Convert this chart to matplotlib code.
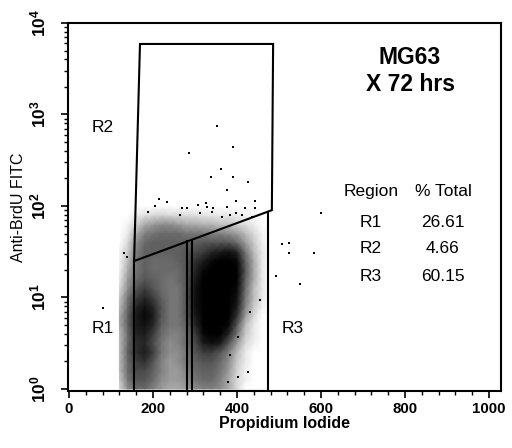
import matplotlib
matplotlib.use("Agg")
import matplotlib.pyplot as plt
import numpy as np
from matplotlib.colors import PowerNorm
from matplotlib.ticker import FixedLocator, FuncFormatter, LogLocator, NullFormatter

plt.rcParams['font.family'] = ['Liberation Sans', 'DejaVu Sans']
plt.rcParams['mathtext.fontset'] = 'custom'
plt.rcParams['mathtext.rm'] = 'Liberation Sans:bold'
plt.rcParams['mathtext.bf'] = 'Liberation Sans:bold'
plt.rcParams['mathtext.it'] = 'Liberation Sans:bold'

# ---------------- data ----------------
x_ticks = [0, 200, 400, 600, 800, 1000]
y_exponents = [0, 1, 2, 3, 4]

# density of events (0 = empty, 1 = solid black), PI channel columns x log10(FITC) rows
density_x = [120, 140, 160, 180, 200, 220, 240, 260, 280, 300,
             320, 340, 360, 380, 400, 420, 440, 460, 480, 500]
density_log = [0.0, 0.1, 0.2, 0.3, 0.4, 0.5, 0.6, 0.7, 0.8, 0.9, 1.0, 1.1,
               1.2, 1.3, 1.4, 1.5, 1.6, 1.7, 1.8, 1.9, 2.0, 2.1, 2.2, 2.3]
density = [
    [0.10, 0.35, 0.50, 0.50, 0.40, 0.30, 0.25, 0.25, 0.30, 0.35, 0.40, 0.40, 0.35, 0.25, 0.10, 0.00, 0, 0, 0, 0],
    [0.15, 0.45, 0.60, 0.60, 0.50, 0.35, 0.30, 0.30, 0.35, 0.45, 0.50, 0.50, 0.40, 0.25, 0.10, 0.03, 0, 0, 0, 0],
    [0.20, 0.50, 0.65, 0.65, 0.55, 0.40, 0.30, 0.30, 0.40, 0.50, 0.55, 0.55, 0.45, 0.30, 0.12, 0.03, 0, 0, 0, 0],
    [0.20, 0.50, 0.70, 0.75, 0.60, 0.40, 0.30, 0.35, 0.45, 0.55, 0.60, 0.60, 0.50, 0.35, 0.15, 0.05, 0, 0, 0, 0],
    [0.20, 0.55, 0.75, 0.85, 0.70, 0.45, 0.35, 0.35, 0.45, 0.60, 0.70, 0.70, 0.60, 0.40, 0.20, 0.05, 0, 0, 0, 0],
    [0.20, 0.50, 0.75, 0.80, 0.65, 0.45, 0.35, 0.40, 0.50, 0.65, 0.85, 0.90, 0.85, 0.60, 0.30, 0.10, 0.03, 0, 0, 0],
    [0.20, 0.50, 0.80, 0.85, 0.70, 0.50, 0.40, 0.40, 0.50, 0.70, 0.95, 1.00, 1.00, 0.80, 0.45, 0.15, 0.05, 0, 0, 0],
    [0.25, 0.55, 0.85, 0.90, 0.80, 0.55, 0.45, 0.45, 0.55, 0.80, 1.00, 1.00, 1.00, 0.95, 0.60, 0.20, 0.05, 0, 0, 0],
    [0.25, 0.55, 0.85, 0.95, 0.85, 0.60, 0.45, 0.45, 0.60, 0.85, 1.00, 1.00, 1.00, 1.00, 0.75, 0.30, 0.10, 0, 0, 0],
    [0.20, 0.50, 0.80, 0.90, 0.80, 0.60, 0.45, 0.45, 0.60, 0.90, 1.00, 1.00, 1.00, 1.00, 0.85, 0.40, 0.15, 0.03, 0, 0],
    [0.15, 0.45, 0.70, 0.80, 0.70, 0.55, 0.45, 0.45, 0.60, 0.90, 1.00, 1.00, 1.00, 1.00, 0.90, 0.45, 0.20, 0.05, 0, 0],
    [0.10, 0.35, 0.60, 0.70, 0.60, 0.50, 0.45, 0.45, 0.60, 0.90, 1.00, 1.00, 1.00, 1.00, 0.95, 0.50, 0.20, 0.05, 0, 0],
    [0.05, 0.30, 0.50, 0.60, 0.55, 0.50, 0.45, 0.50, 0.60, 0.85, 1.00, 1.00, 1.00, 1.00, 1.00, 0.55, 0.25, 0.05, 0, 0],
    [0.03, 0.25, 0.45, 0.55, 0.50, 0.50, 0.50, 0.50, 0.60, 0.80, 0.95, 1.00, 1.00, 1.00, 1.00, 0.60, 0.25, 0.05, 0, 0],
    [0.02, 0.20, 0.45, 0.55, 0.50, 0.50, 0.50, 0.55, 0.60, 0.75, 0.85, 0.95, 1.00, 1.00, 0.95, 0.55, 0.25, 0.05, 0, 0],
    [0.02, 0.15, 0.40, 0.55, 0.55, 0.55, 0.55, 0.55, 0.60, 0.65, 0.70, 0.80, 0.85, 0.90, 0.80, 0.45, 0.20, 0.05, 0, 0],
    [0.00, 0.10, 0.35, 0.50, 0.55, 0.55, 0.55, 0.55, 0.55, 0.55, 0.60, 0.60, 0.60, 0.60, 0.50, 0.30, 0.15, 0.03, 0, 0],
    [0.00, 0.05, 0.25, 0.40, 0.45, 0.50, 0.50, 0.50, 0.45, 0.45, 0.45, 0.40, 0.40, 0.35, 0.30, 0.20, 0.10, 0.02, 0, 0],
    [0.00, 0.02, 0.12, 0.25, 0.30, 0.35, 0.35, 0.30, 0.25, 0.25, 0.22, 0.22, 0.18, 0.18, 0.12, 0.08, 0.04, 0, 0, 0],
    [0.00, 0.00, 0.04, 0.08, 0.10, 0.12, 0.10, 0.10, 0.09, 0.08, 0.06, 0.06, 0.05, 0.05, 0.04, 0.02, 0.01, 0, 0, 0],
    [0, 0, 0, 0, 0, 0, 0, 0, 0, 0, 0, 0, 0, 0, 0, 0, 0, 0, 0, 0],
    [0, 0, 0, 0, 0, 0, 0, 0, 0, 0, 0, 0, 0, 0, 0, 0, 0, 0, 0, 0],
    [0, 0, 0, 0, 0, 0, 0, 0, 0, 0, 0, 0, 0, 0, 0, 0, 0, 0, 0, 0],
    [0, 0, 0, 0, 0, 0, 0, 0, 0, 0, 0, 0, 0, 0, 0, 0, 0, 0, 0, 0],
]

# individual sparse events
event_pi = [352, 286, 390, 362, 390, 338, 426, 376, 398, 443, 600, 507, 524, 524,
            583, 493, 550, 81, 131, 138, 455, 431, 402, 383, 426, 402, 379,
            214, 233, 188, 269, 326, 343, 376, 398, 419, 443, 329, 312, 340,
            364, 383, 412, 436, 205, 281, 264, 307]
event_fitc = [748, 379, 441, 254, 208, 208, 183, 150, 113, 113, 84, 38, 39, 31,
              31, 17, 14, 7.7, 31, 28, 9.4, 7.0, 3.7, 2.35, 1.53, 1.35, 1.19,
              119, 111, 86, 95, 108, 95, 98, 84, 95, 95, 98, 84, 86,
              76, 80, 80, 76, 100, 95, 80, 103]

# gates
r2_gate_x = [155, 169, 486, 483, 155]
r2_gate_y = [25, 5900, 5900, 90, 25]
r1_gate_x = [155, 155, 281, 281]
r1_gate_y = [25, 0.95, 0.95, 41]
r3_gate_x = [292, 292, 474, 474]
r3_gate_y = [43, 0.95, 0.95, 87]

regions = ['R1', 'R2', 'R3']
percent_total = ['26.61', '4.66', '60.15']

# ---------------- figure ----------------
fig = plt.figure(figsize=(5.12, 4.48), dpi=100)
ax = fig.add_axes([68 / 512, (448 - 391) / 448, 433 / 512, 368 / 448])
ax.set_yscale('log')
ax.set_xlim(-2.4, 1028.6)
ax.set_ylim(0.95, 10000)

X, Y = np.meshgrid(np.array(density_x, float), 10 ** np.array(density_log, float))
ax.pcolormesh(X, Y, np.array(density, float), shading='gouraud', cmap='Greys',
              norm=PowerNorm(gamma=0.6, vmin=0, vmax=1), zorder=1, rasterized=True)

ax.plot(event_pi, event_fitc, 's', color='black', ms=1.8, mew=0, zorder=2)

for gx, gy in [(r2_gate_x, r2_gate_y), (r1_gate_x, r1_gate_y), (r3_gate_x, r3_gate_y)]:
    ax.plot(gx, gy, color='black', lw=1.5, zorder=3, solid_joinstyle='miter')

# ticks
ax.xaxis.set_major_locator(FixedLocator(x_ticks))
ax.xaxis.set_minor_locator(FixedLocator(np.arange(0, 1001, 40)))
ax.yaxis.set_major_locator(FixedLocator([10.0 ** e for e in y_exponents]))
ax.yaxis.set_minor_locator(LogLocator(base=10, subs=np.arange(2, 10), numticks=20))
ax.yaxis.set_minor_formatter(NullFormatter())
ax.yaxis.set_major_formatter(FuncFormatter(lambda v, p: r'$\mathbf{10^{%d}}$' % int(round(np.log10(v)))))
ax.tick_params(axis='both', which='major', direction='out', length=5, width=1.2)
ax.tick_params(axis='x', which='major', labelsize=10.8, pad=3)
ax.tick_params(axis='y', which='major', labelsize=12.5, pad=9)
ax.tick_params(axis='both', which='minor', direction='out', length=3, width=1.0)
for lab in ax.get_xticklabels():
    lab.set_fontweight('bold')
for lab in ax.get_yticklabels():
    lab.set_rotation(90)
    lab.set_va('center')

for s in ax.spines.values():
    s.set_linewidth(1.5)

ax.set_xlabel('Propidium Iodide', fontsize=11.5, fontweight='bold', va='center')
ax.xaxis.set_label_coords(0.5, -0.087)
ax.set_ylabel('Anti-BrdU FITC', fontsize=11.5, va='center')
ax.yaxis.set_label_coords(-0.115, 0.5)

# annotations
ax.text(0.790, 0.905, 'MG63', transform=ax.transAxes, ha='center', va='center',
        fontsize=16.5, fontweight='bold')
ax.text(0.790, 0.832, 'X 72 hrs', transform=ax.transAxes, ha='center', va='center',
        fontsize=16.5, fontweight='bold')
ax.text(0.700, 0.541, 'Region', transform=ax.transAxes, ha='center', va='center', fontsize=12.5)
ax.text(0.868, 0.541, '% Total', transform=ax.transAxes, ha='center', va='center', fontsize=12.5)
row_y = [0.459, 0.386, 0.310]
for r, p, yy in zip(regions, percent_total, row_y):
    ax.text(0.700, yy, r, transform=ax.transAxes, ha='center', va='center', fontsize=12.5)
    ax.text(0.866, yy, p, transform=ax.transAxes, ha='center', va='center', fontsize=12.5)

ax.text(0.081, 0.715, 'R2', transform=ax.transAxes, ha='center', va='center', fontsize=12.5)
ax.text(0.081, 0.171, 'R1', transform=ax.transAxes, ha='center', va='center', fontsize=12.5)
ax.text(0.520, 0.171, 'R3', transform=ax.transAxes, ha='center', va='center', fontsize=12.5)

fig.savefig('out.png', dpi=100)
